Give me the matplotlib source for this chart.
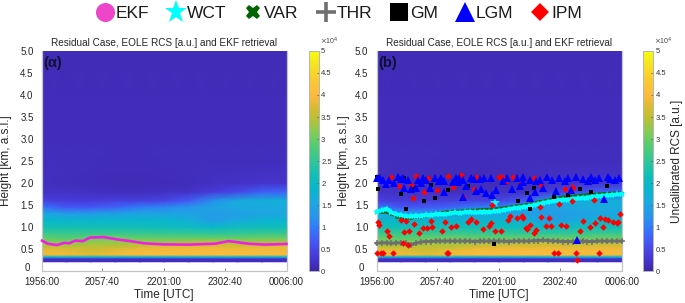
import numpy as np
import matplotlib
matplotlib.use("Agg")
import matplotlib.pyplot as plt
from matplotlib.colors import LinearSegmentedColormap
from matplotlib.lines import Line2D
from matplotlib.transforms import ScaledTranslation

plt.rcParams['font.family'] = ['Liberation Sans', 'DejaVu Sans']

# ---------- data ----------
time_ticks = [0, 61.67, 125, 186.67, 250]
time_labels = ['1956:00', '2057:40', '2201:00', '2302:40', '0006:00']
height_ticks = [0, .5, 1, 1.5, 2, 2.5, 3, 3.5, 4, 4.5, 5]
height_labels = ['0', '0.5', '1.0', '1.5', '2.0', '2.5', '3.0', '3.5', '4.0', '4.5', '5.0']
cbar_ticks = [0, .5e4, 1e4, 1.5e4, 2e4, 2.5e4, 3e4, 3.5e4, 4e4, 4.5e4, 5e4]
cbar_labels = ['0', '0.5', '1', '1.5', '2', '2.5', '3', '3.5', '4', '4.5', '5']

rcs_times = [0, 25, 50, 75, 100, 125, 150, 175, 200, 225, 250]
rcs_heights = [0.21, 0.285, 0.305, 0.32, 0.345, 0.37, 0.45, 0.55, 0.65, 0.75, 0.85, 1.0,
               1.15, 1.3, 1.45, 1.6, 1.8, 2.0, 2.5, 3.0, 5.0]
rcs_1e4 = [
    [.12, .12, .12, .12, .12, .12, .12, .12, .12, .12, .12],
    [.2, .2, .2, .2, .2, .2, .2, .2, .2, .2, .2],
    [.8, .8, .8, .8, .8, .8, .8, .8, .8, .8, .8],
    [1.5, 1.5, 1.5, 1.5, 1.5, 1.5, 1.5, 1.5, 1.5, 1.5, 1.5],
    [2.5, 2.5, 2.5, 2.5, 2.5, 2.5, 2.5, 2.5, 2.5, 2.5, 2.5],
    [3.9, 3.9, 3.8, 3.9, 4.0, 4.0, 4.0, 4.0, 4.0, 3.95, 3.95],
    [3.9, 3.85, 3.65, 3.85, 3.95, 3.95, 4.0, 4.0, 3.95, 3.95, 3.95],
    [3.5, 3.5, 3.5, 3.5, 3.7, 3.8, 3.8, 3.8, 3.75, 3.8, 3.8],
    [3.15, 3.15, 3.25, 3.25, 3.3, 3.3, 3.4, 3.55, 3.35, 3.4, 3.4],
    [2.95, 2.85, 2.95, 3.05, 2.95, 2.95, 2.95, 2.95, 2.95, 3.0, 3.0],
    [2.6, 2.6, 2.6, 2.6, 2.6, 2.55, 2.55, 2.5, 2.55, 2.6, 2.6],
    [2.2, 2.2, 2.2, 2.2, 2.15, 2.1, 2.05, 1.9, 2.1, 2.1, 2.1],
    [1.9, 1.85, 1.85, 1.85, 1.85, 1.85, 1.7, 1.35, 1.6, 1.8, 1.8],
    [1.6, 1.4, 1.4, 1.45, 1.55, 1.5, 1.5, 1.35, 1.4, 1.5, 1.55],
    [.9, .7, .7, .8, 1.0, 1.1, 1.25, 1.5, 1.6, 1.6, 1.6],
    [.4, .35, .35, .4, .4, .45, .7, 1.2, 1.6, 1.7, 1.7],
    [.2, .2, .18, .15, .15, .18, .2, .35, .5, .75, .8],
    [.16, .15, .12, .1, .1, .1, .15, .18, .2, .25, .25],
    [.14, .14, .14, .12, .12, .14, .14, .15, .15, .15, .15],
    [.13, .13, .13, .12, .12, .13, .13, .13, .13, .13, .13],
    [.1, .1, .1, .1, .1, .1, .1, .1, .1, .1, .1],
]

ekf_time = [0, 6, 15, 23, 28, 34, 42, 49, 63, 76, 90, 104, 124, 150, 177, 191, 211, 228, 250]
ekf_height = [.69, .62, .59, .64, .63, .69, .68, .76, .77, .72, .68, .63, .605, .60, .62, .68, .62, .60, .615]

line_time = np.arange(0, 251, 5)
wct_height = [1.35, 1.38, 1.42, 1.33, 1.29, 1.27, 1.25, 1.24, 1.26, 1.25, 1.28, 1.27, 1.29, 1.30, 1.29, 1.31,
              1.33, 1.32, 1.34, 1.35, 1.33, 1.34, 1.35, 1.34, 1.36, 1.37, 1.39, 1.41, 1.43, 1.44, 1.46, 1.47,
              1.50, 1.52, 1.55, 1.57, 1.59, 1.61, 1.62, 1.62, 1.64, 1.65, 1.66, 1.67, 1.69, 1.70, 1.71, 1.72,
              1.73, 1.74, 1.75]
wct_out_time = [121]
wct_out_height = [1.55]
var_height = [1.33, 1.33, 1.33, 1.30, 1.23, 1.20, 1.19, 1.20, 1.22, 1.22, 1.25, 1.27, 1.30, 1.33, 1.35, 1.36,
              1.37, 1.37, 1.38, 1.39, 1.39, 1.40, 1.41, 1.41, 1.42, 1.43, 1.45, 1.46, 1.48, 1.49, 1.51, 1.53,
              1.55, 1.58, 1.60, 1.62, 1.65, 1.67, 1.69, 1.70, 1.71, 1.72, 1.73, 1.74, 1.75, 1.76, 1.77, 1.77,
              1.78, 1.78, 1.78]
thr_height = [.63, .64, .64, .63, .64, .64, .63, .60, .63, .66, .67, .67, .68, .68, .68, .68,
              .68, .68, .68, .68, .67, .68, .68, .68, .68, .68, .68, .67, .68, .68, .68, .68,
              .69, .69, .70, .69, .68, .68, .67, .67, .67, .68, .68, .67, .67, .68, .68, .68,
              .68, .68, .68]

gm_time = [1.7, 24.8, 48, 59.5, 73, 30, 93.5, 119.7, 55.4, 37, 28, 0,
           144.5, 153, 156.4, 207.4, 234.6, 217.6, 219, 195.5, 181, 160]
gm_height = [1.86, 1.75, 1.59, 1.65, 1.84, 1.42, 1.94, .62, 1.96, 1.88, 2.11, 2.14,
             1.60, 1.77, 1.42, 1.86, 1.94, 2.07, 1.80, 1.73, 1.675, 1.88]

lgm_time = [21.4, 13, 9.5, 18, 28, 40, 35, 47, 50.3, 59, 66, 69, 54, 45, 69, 81, 84, 88, 91, 96.2, 99.6, 105,
            110, 117, 106.4, 112, 118, 122, 101, 88.4, 83, 78, 64, 25, 32, 3, 6, 42, 27, 0,
            132.6, 142.8, 149.6, 156.4, 173.4, 186.3, 195.5, 203.3, 210.8, 218.3, 226.8, 236.3, 247.5,
            137.7, 149.6, 161.5, 170, 183, 198, 156.4, 146.2, 166.6, 178.5, 192, 222.7, 238, 243, 232,
            204.7, 163, 129, 216]
lgm_height = [2.14, 2.07, 1.97, 1.99, 1.88, 1.89, 1.86, 2.11, 2.07, 2.11, 2.12, 2.05, 1.88, 1.99, 1.80, 2.12,
              2.11, 2.07, 1.94, 2.12, 2.09, 2.09, 2.12, 2.12, 1.86, 1.77, 1.73, 1.84, 1.82, 1.69, 2.03, 2.03,
              2.05, 2.09, 2.07, 2.11, 2.07, 2.07, 2.11, 2.12,
              2.11, 2.12, 2.14, 2.07, 2.13, 2.12, 2.12, 2.14, 2.09, 2.13, 2.12, 2.14, 2.12,
              1.86, 2.03, 1.80, 1.88, 1.82, 1.84, 1.65, 1.94, 2.07, 2.07, 2.05, 2.07, 2.09, 2.07, 1.63,
              .71, 2.05, 2.05, 2.05]

ipm_time = [14.6, 40, 52, 72.4, 86, 101, 124.4, 23, 35, 48.6, 61.5, 78, 99.6, 37, 88.4, 118, 55, 25, 30, 1, 2.7,
            38, 70, 96.5, 93, 101, 117, 115, 11, 13, 28, 33.3, 43, 47, 51.3, 56.4, 66.3, 76, 81.2, 108, 121,
            26.5, 31.6, 0, 4.4, 6.4, 16.6, 71.4, 72.7,
            127.5, 131, 139.4, 146, 160, 168, 192, 199, 200.6, 166.6, 186, 199, 222, 136, 134, 143, 148, 149.6,
            168, 176, 156, 152, 153, 160, 162.5, 173, 178, 188, 193, 210, 207, 217.6, 223, 228, 233, 236.3,
            241.4, 245, 246.5, 248, 231, 126.5, 181, 184.6, 203, 226.4, 204.7]
ipm_height = [2.13, 2.16, 2.12, 2.17, 2.18, 2.14, 2.13, 1.94, 1.96, 1.80, 1.83, 1.90, 1.86, 1.65, 1.69, 1.50, 1.14,
              1.16, 1.14, 1.12, 1.05, 1.07, 1.11, 1.18, 1.12, 1.12, 1.08, 1.02, .92, .80, .88, .92, .865, .97, .98,
              1.0, .90, 1.01, 1.03, .95, .90, .63, .59, .42, .42, .42, .42, .42, .42,
              2.13, 2.03, 2.13, 2.05, 2.11, 1.96, 1.86, 1.92, 1.88, 1.45, 1.52, 1.59, 1.61, 1.26, 1.16, 1.21, 1.24,
              1.21, 1.23, 1.21, 1.05, .97, .96, .87, .93, 1.02, 1.02, 1.05, 1.02, 1.14, .92, 1.0, 1.10, 1.21, 1.18,
              1.16, 1.12, 1.08, 1.11, 1.30, 1.01, .92, .42, .42, .42, .42, .26]

legend_names = ['EKF', 'WCT', 'VAR', 'THR', 'GM', 'LGM', 'IPM']

# ---------- colours ----------
parula = LinearSegmentedColormap.from_list('parula', [
    (0.000, (.2422, .1504, .6603)), (0.060, (.2760, .2200, .8400)), (0.125, (.2810, .3228, .9579)),
    (0.190, (.2000, .4700, .9900)), (0.250, (.1540, .5902, .9218)), (0.320, (.1000, .6700, .8700)),
    (0.375, (.0300, .7200, .8000)), (0.440, (.0700, .7500, .7100)), (0.500, (.1900, .7800, .6000)),
    (0.570, (.3200, .8000, .4500)), (0.625, (.5000, .8000, .3500)), (0.700, (.7500, .7500, .2000)),
    (0.750, (.8700, .7300, .2000)), (0.800, (.9900, .7300, .2400)), (0.875, (.9800, .8000, .1900)),
    (0.950, (.9600, .9100, .1200)), (1.000, (.9763, .9831, .0538))])

W, H = 685.0, 303.0
fig = plt.figure(figsize=(W / 100, H / 100), dpi=100)


def px_axes(x0, x1, y0, y1):
    return fig.add_axes([x0 / W, 1 - y1 / H, (x1 - x0) / W, (y1 - y0) / H])


def panel(x0, x1, cx0, cx1, tag, ylabel_x, cbar_label):
    ax = px_axes(x0, x1, 51, 271)
    mesh = ax.pcolormesh(rcs_times, rcs_heights, np.array(rcs_1e4) * 1e4, shading='gouraud',
                         cmap=parula, vmin=0, vmax=5e4, zorder=1, rasterized=True)
    ax.set_xlim(0, 250)
    ax.set_ylim(0, 5)
    ax.set_xticks(time_ticks, time_labels)
    ax.set_yticks(height_ticks, height_labels)
    ax.tick_params(axis='x', direction='in', length=2, width=.6, color='#777777',
                   labelsize=7, labelcolor='#262626', pad=4.2)
    ax.tick_params(axis='y', length=0, labelsize=7, labelcolor='#262626', pad=6)
    zero = ax.get_yticklabels()[0]
    zero.set_transform(zero.get_transform() + ScaledTranslation(-3 / 72, 3 / 72, fig.dpi_scale_trans))
    for name, sp in ax.spines.items():
        sp.set_color('#c4c4c4')
        sp.set_linewidth(.9)
    ax.spines['top'].set_visible(False)
    ax.set_title('Residual Case, EOLE RCS [a.u.] and EKF retrieval', fontsize=7.2, color='#262626', pad=3.5)
    ax.set_xlabel('Time [UTC]', fontsize=8.5, color='#262626', labelpad=1.5)
    fig.text(ylabel_x / W, 1 - 161 / H, 'Height [km, a.s.l.]', rotation=90, fontsize=8.5, color='#262626',
             ha='center', va='center')
    ax.text(0.005, .945, tag, transform=ax.transAxes, fontsize=10.5, fontweight='bold',
            color='#101030', ha='left', va='center', zorder=20)

    cax = px_axes(cx0, cx1, 51, 271)
    cb = fig.colorbar(mesh, cax=cax)
    cb.set_ticks(cbar_ticks, labels=cbar_labels)
    cax.tick_params(direction='in', length=1.5, width=.5, color='#555555', labelsize=5.5,
                    labelcolor='#333333', pad=1.5)
    cb.outline.set_edgecolor('#b5b5b5')
    cb.outline.set_linewidth(.7)
    fig.text((cx0 + 11) / W, 1 - 41.5 / H, r'$\times$10$^{4}$', fontsize=5, color='#444444', ha='left', va='center')
    if cbar_label:
        fig.text(677 / W, 1 - 161 / H, cbar_label, rotation=90, fontsize=8.5, color='#262626',
                 ha='center', va='center')
    return ax


ax_a = panel(42, 286.5, 309.3, 319, '(α)', 6.5, None)
ax_b = panel(376.7, 621.7, 643.3, 653.3, '(b)', 344, 'Uncalibrated RCS [a.u.]')

ax_a.plot(ekf_time, ekf_height, color='#F020E0', lw=1.9, zorder=5, clip_on=False)

ax_b.plot(line_time, thr_height, color='#6e6e6e', lw=2.2, marker='+', ms=4.5, mew=1.1, zorder=3, clip_on=False)
ax_b.plot(line_time, var_height, color='#0b6b1a', lw=1.6, marker='X', ms=2.5, mew=0, zorder=3, clip_on=False)
ax_b.plot(line_time, wct_height, color='#00FFFF', lw=2.8, marker='*', ms=6, mew=0, zorder=4, clip_on=False)
ax_b.plot(wct_out_time, wct_out_height, ls='none', color='#00FFFF', marker='*', ms=7, mew=0, zorder=4)
ax_b.plot(gm_time, gm_height, ls='none', color='black', marker='s', ms=3.1, mew=0, zorder=5, clip_on=False)
ax_b.plot(ipm_time, ipm_height, ls='none', color='#FF0000', marker='D', ms=3.3, mew=0, zorder=6, clip_on=False)
ax_b.plot(lgm_time, lgm_height, ls='none', color='#0000FF', marker='^', ms=5.2, mew=0, zorder=7, clip_on=False)

# ---------- legend ----------
handles = [
    Line2D([], [], ls='none', marker='o', ms=13.7, mew=0, color='#EE46C8'),
    Line2D([], [], ls='none', marker='*', ms=17, mew=0, color='#00FFFF'),
    Line2D([], [], ls='none', marker='X', ms=10.5, mew=0, color='#006400'),
    Line2D([], [], ls='none', marker='+', ms=14, mew=2.6, color='#707070'),
    Line2D([], [], ls='none', marker='s', ms=13.5, mew=0, color='black'),
    Line2D([], [], ls='none', marker='^', ms=14, mew=0, color='#0000FF'),
    Line2D([], [], ls='none', marker='D', ms=9.5, mew=0, color='#FF0000'),
]
fig.legend(handles, legend_names, loc='center', bbox_to_anchor=(339.5 / W, 1 - 13.5 / H), ncol=7, frameon=False,
           fontsize=12.5, handlelength=.9, handletextpad=.18, columnspacing=1.1, labelcolor='#1a1a1a',
           numpoints=1, borderpad=0, borderaxespad=0)

fig.savefig('out.png', dpi=100)
